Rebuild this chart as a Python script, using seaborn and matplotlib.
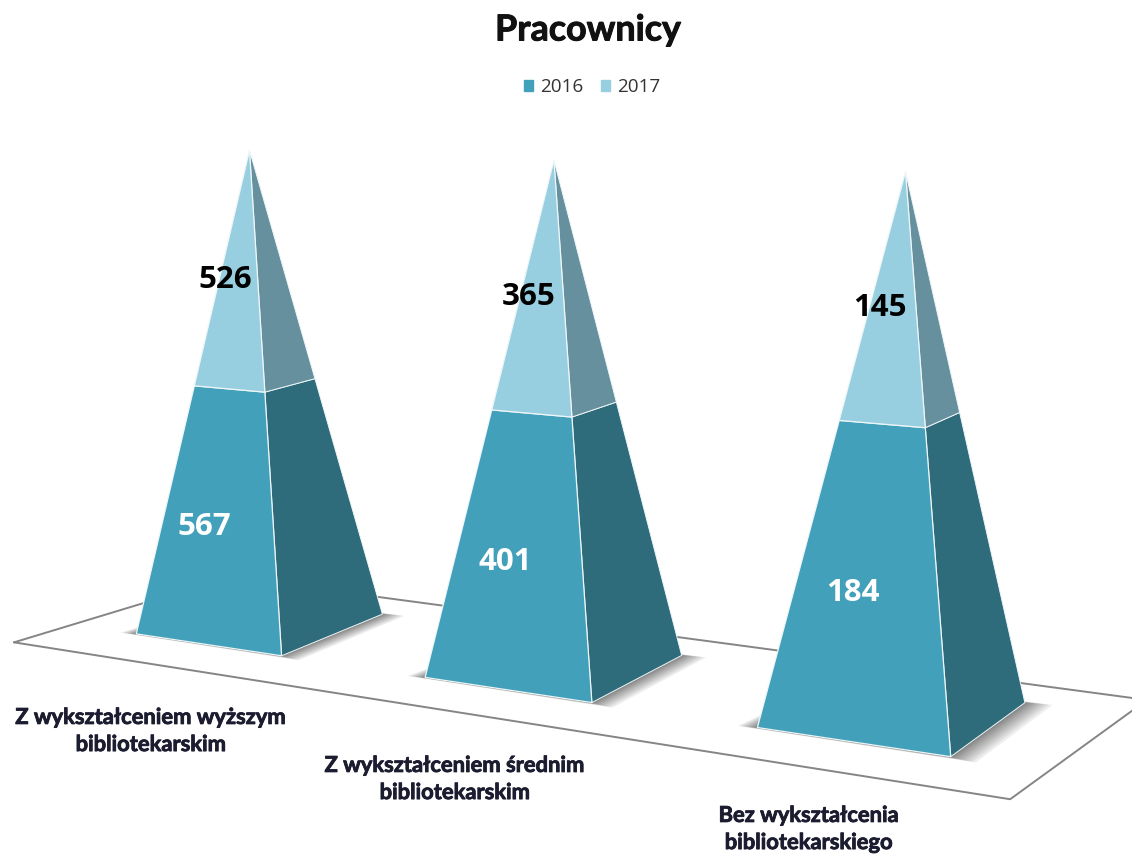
import numpy as np
import pandas as pd
import seaborn as sns
import matplotlib.pyplot as plt
import matplotlib.patheffects as pe
from matplotlib.patches import Patch

categories = ["Z wykształceniem wyższym\nbibliotekarskim",
              "Z wykształceniem średnim\nbibliotekarskim",
              "Bez wykształcenia\nbibliotekarskiego"]
values_2016 = [567, 401, 184]
values_2017 = [526, 365, 145]
years = ["2016", "2017"]

# camera matrix for the fake 3d view: world (x, depth, share) -> pixels
CAMERA = np.array([[258.321, 58.6109, -19.5951, 260.629],
                   [-0.722312, -3.13151, -478.847, 623.914],
                   [-0.0646793, 0.0272859, -0.0339197, 1.0]])
HALF_WIDTH = 0.26
FRONT_COLORS = ["#42a0ba", "#98cfe0"]
SIDE_COLORS = ["#2e6b7b", "#66909e"]
LABEL_COLORS = ["white", "black"]
LABEL_OFFSET = (-14, 10)
CATEGORY_POS = [(151, 731), (455, 779), (809, 829)]


def project(x, depth, share):
    h = CAMERA @ np.array([x, depth, share, 1.0])
    return h[0] / h[2], h[1] / h[2]


def front_face(i, z0, z1):
    w0, w1 = 1 - z0, 1 - z1
    return [project(i - HALF_WIDTH * w0, -w0, z0), project(i + HALF_WIDTH * w0, -w0, z0),
            project(i + HALF_WIDTH * w1, -w1, z1), project(i - HALF_WIDTH * w1, -w1, z1)]


def side_face(i, z0, z1):
    w0, w1 = 1 - z0, 1 - z1
    return [project(i + HALF_WIDTH * w0, -w0, z0), project(i + HALF_WIDTH * w0, w0, z0),
            project(i + HALF_WIDTH * w1, w1, z1), project(i + HALF_WIDTH * w1, -w1, z1)]


sns.set_theme(style="white")
plt.rcParams['font.family'] = ['Lato', 'DejaVu Sans']
heavy = [pe.withStroke(linewidth=0.6, foreground="#1c1c30")]

fig = plt.figure(figsize=(11.32, 8.56), dpi=100)
ax = fig.add_axes([0, 0, 1, 1])

# floor
floor = pd.DataFrame([project(*c, 0) for c in [(-0.52, -1.92), (2.5, -1.92), (2.53, 1.65), (-0.43, 1.65), (-0.52, -1.92)]],
                     columns=["x", "y"])
sns.lineplot(data=floor, x="x", y="y", sort=False, estimator=None, color="#858585", lw=1.4, ax=ax)

for i in range(len(categories)):
    split = values_2016[i] / (values_2016[i] + values_2017[i])

    # soft shadow on the floor
    for grow in np.linspace(1, 0, 12) ** 1.5:
        corners = [(i - HALF_WIDTH - 0.05 * grow, -1.01 - 0.03 * grow),
                   (i + HALF_WIDTH + 0.07 * grow, -1.01 - 0.05 * grow),
                   (i + HALF_WIDTH + 0.07 * grow, 1.0 + 0.05 * grow),
                   (i - HALF_WIDTH, 1.0)]
        ax.fill(*zip(*[project(x, d, 0) for x, d in corners]), color="#404040", alpha=0.09, lw=0, zorder=2)

    # both stacked parts, front and side
    for s, (z0, z1) in enumerate([(0, split), (split, 1)]):
        ax.fill(*zip(*side_face(i, z0, z1)), facecolor=SIDE_COLORS[s], edgecolor="#eef6f8", lw=0.7, zorder=3)
        ax.fill(*zip(*front_face(i, z0, z1)), facecolor=FRONT_COLORS[s], edgecolor="#eef6f8", lw=0.9, zorder=4)
        px, py = project(i, -(1 - (z0 + z1) / 2), (z0 + z1) / 2)
        value = (values_2016, values_2017)[s][i]
        ax.text(px + LABEL_OFFSET[0], py + LABEL_OFFSET[1], str(value), color=LABEL_COLORS[s], fontsize=22.5,
                fontweight="bold", family=["Open Sans", "DejaVu Sans"], ha="center", va="center", zorder=5)

    ax.text(CATEGORY_POS[i][0], CATEGORY_POS[i][1], categories[i], color="#1c1c30", fontsize=15.8,
            fontweight="bold", ha="center", va="center", linespacing=1.36, zorder=5, path_effects=heavy)

ax.set_xlim(0, 1132)
ax.set_ylim(856, 0)
ax.set_axis_off()

ax.text(588, 30, "Pracownicy", color="#111111", fontsize=25.8, fontweight="bold", ha="center", va="center",
        path_effects=[pe.withStroke(linewidth=0.7, foreground="#111111")])

handles = [Patch(color=FRONT_COLORS[k], label=years[k]) for k in range(2)]
fig.legend(handles=handles, loc="center", bbox_to_anchor=(592 / 1132, 1 - 87.5 / 856), ncol=2, frameon=False,
           handlelength=0.5, handleheight=0.5, handletextpad=0.35, columnspacing=0.95,
           prop={"family": "Open Sans", "size": 13.6, "weight": 500}, labelcolor="#333333")

fig.savefig("out.png", dpi=100)
